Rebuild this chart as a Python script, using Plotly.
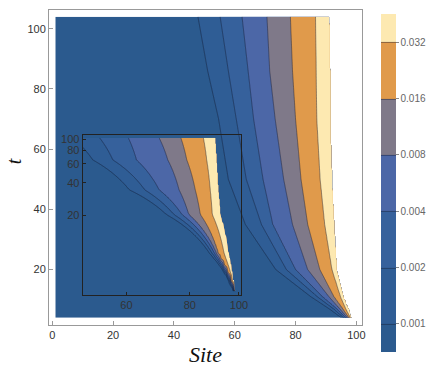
import numpy as np
import plotly.graph_objects as go

# ---- data ----
level_labels = ["0.001", "0.002", "0.004", "0.008", "0.016", "0.032"]
band_colors = ["#2b5a8e", "#2f5d95", "#36619c", "#4c67a7", "#7f7989", "#e09a4b", "#fde9b1"]

# main panel: time samples (ascending) and the site where each level is crossed
t_knots = [4, 7, 11, 20, 35, 50, 70, 86, 104]
b_001 = [95.0, 91.0, 85.0, 73.5, 63.5, 57.9, 54.7, 51.1, 47.9]
b_002 = [95.8, 92.5, 87.2, 77.0, 68.8, 63.8, 60.5, 57.9, 55.2]
b_004 = [96.5, 93.5, 88.8, 80.0, 72.5, 69.3, 66.2, 64.4, 62.4]
b_008 = [97.0, 94.5, 91.0, 84.0, 79.0, 76.1, 73.3, 71.5, 70.6]
b_016 = [97.5, 95.5, 92.6, 88.0, 84.0, 81.8, 80.0, 79.0, 78.3]
b_032 = [98.0, 96.5, 94.8, 92.0, 89.6, 88.1, 87.0, 86.8, 86.6]
b_edge = [98.6, 97.5, 95.9, 93.7, 92.8, 92.1, 91.5, 91.5, 91.2]

# inset panel (log-log): its own crossings
ti_knots = [4, 8.7, 20.4, 34.4, 65, 104]
i_001 = [97.4, 87.8, 71.9, 60.8, 51.5, 47.0]
i_002 = [97.6, 88.8, 74.4, 65.2, 56.4, 53.1]
i_004 = [97.8, 89.8, 77.2, 69.6, 62.8, 60.5]
i_008 = [97.9, 90.5, 79.6, 76.2, 72.4, 69.6]
i_016 = [98.0, 91.1, 83.9, 82.0, 78.9, 76.8]
i_032 = [98.1, 93.6, 88.6, 87.8, 86.4, 85.1]
i_edge = [98.4, 95.6, 92.0, 91.1, 90.4, 89.8]

sites = np.arange(1, 100.001, 0.25)
times = np.arange(4, 104.001, 1.0)


def build_field(tk, bounds):
    z = np.full((len(times), len(sites)), np.nan)
    idx = np.arange(len(bounds), dtype=float)
    for i, t in enumerate(times):
        p = np.array([np.interp(t, tk, b) for b in bounds])
        row = np.interp(sites, p, idx)
        left = sites < p[0]
        row[left] = np.maximum(-3.0, (sites[left] - p[0]) / (p[1] - p[0]))
        row[sites > p[-1]] = np.nan
        z[i] = row
    return z


z_main = build_field(t_knots, [b_001, b_002, b_004, b_008, b_016, b_032, b_edge])
z_inset = build_field(ti_knots, [i_001, i_002, i_004, i_008, i_016, i_032, i_edge])

colorscale = [[k / 6, c] for k, c in enumerate(band_colors)]
contours = dict(start=0, end=5, size=1, coloring="fill")
line = dict(color="rgba(20,25,45,0.55)", width=0.8, smoothing=0.6)

fig = go.Figure()
fig.add_trace(go.Contour(
    x=sites, y=times, z=z_main, contours=contours, colorscale=colorscale,
    line=line, connectgaps=False, hoverinfo="skip",
    colorbar=dict(
        x=1.06, xanchor="left", y=0.451, yanchor="middle",
        len=338, lenmode="pixels", thickness=15, xpad=0, ypad=0,
        tickvals=[0, 1, 2, 3, 4, 5], ticktext=level_labels,
        ticks="outside", ticklen=3, tickcolor="#888",
        tickfont=dict(size=10, color="#666", family="Liberation Sans"),
        outlinewidth=0,
    ),
))
fig.add_trace(go.Contour(
    x=sites, y=times, z=z_inset, contours=contours, colorscale=colorscale,
    line=line, connectgaps=False, hoverinfo="skip", showscale=False,
    xaxis="x2", yaxis="y2",
))

tickfont = dict(size=11, color="#333", family="Liberation Sans")
fig.update_layout(
    width=436, height=379,
    margin=dict(l=49, r=71, t=10, b=54),
    paper_bgcolor="white", plot_bgcolor="rgba(0,0,0,0)",
    showlegend=False,
    xaxis=dict(
        range=[-1.07, 101.85], tickvals=[0, 20, 40, 60, 80, 100],
        ticks="inside", ticklen=4, tickcolor="#999",
        showline=True, mirror=True, linecolor="#999", linewidth=1,
        showgrid=False, zeroline=False, tickfont=tickfont, automargin=False,
    ),
    yaxis=dict(
        range=[1.6, 106.2], tickvals=[20, 40, 60, 80, 100],
        ticks="inside", ticklen=4, tickcolor="#999",
        showline=True, mirror=True, linecolor="#999", linewidth=1,
        showgrid=False, zeroline=False, tickfont=tickfont, automargin=False,
    ),
    xaxis2=dict(
        type="log", range=[np.log10(49.2), np.log10(101)],
        domain=[0.1076, 0.614], anchor="y2",
        tickvals=[60, 80, 100], ticks="inside", ticklen=3, tickcolor="#222",
        showline=True, mirror=True, linecolor="#222", linewidth=1,
        showgrid=False, zeroline=False, tickfont=tickfont, automargin=False,
    ),
    yaxis2=dict(
        type="log", range=[np.log10(3.7), np.log10(109)],
        domain=[0.0952, 0.6016], anchor="x2",
        tickvals=[20, 40, 60, 80, 100], ticks="inside", ticklen=3, tickcolor="#222",
        showline=True, mirror=True, linecolor="#222", linewidth=1,
        showgrid=False, zeroline=False, tickfont=tickfont, automargin=False,
    ),
    annotations=[
        dict(text="<i>Site</i>", xref="paper", yref="paper", x=0.5, y=-0.095,
             xanchor="center", yanchor="middle", showarrow=False,
             font=dict(family="Liberation Serif", size=22, color="#111")),
        dict(text="<i>t</i>", xref="paper", yref="paper", x=-0.112, y=0.52,
             xanchor="center", yanchor="middle", showarrow=False, textangle=-90,
             font=dict(family="Liberation Serif", size=20, color="#111")),
    ],
)

fig.write_html(
    "out.html",
    config={"displayModeBar": False},
    post_script="document.body.style.margin='0';document.body.style.overflow='hidden';",
)
